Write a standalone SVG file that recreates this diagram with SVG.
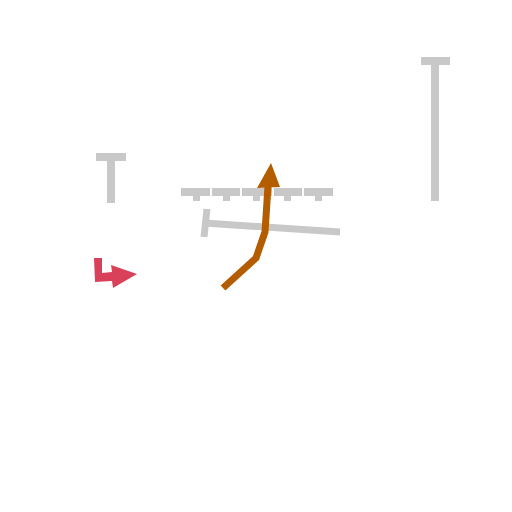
<svg xmlns="http://www.w3.org/2000/svg" width="512" height="512" viewBox="0 0 512 512">
<style>
.g{fill:#c8c8c8}
.gl{stroke:#c8c8c8;fill:none;stroke-width:7}
</style>
<rect width="512" height="512" fill="#fff"/>
<g id="left-post">
<rect class="g" x="96" y="153" width="30" height="8"/>
<rect class="g" x="107" y="160" width="8" height="43"/>
</g>
<g id="right-post">
<rect class="g" x="421" y="57" width="29" height="8"/>
<rect class="g" x="431" y="64" width="8" height="137"/>
</g>
<g id="rail">
<rect class="g" x="181" y="188" width="29" height="8"/>
<rect class="g" x="212" y="188" width="28" height="8"/>
<rect class="g" x="242" y="188" width="30" height="8"/>
<rect class="g" x="274" y="188" width="28" height="8"/>
<rect class="g" x="304" y="188" width="29" height="8"/>
<rect class="g" x="193" y="195" width="7" height="6"/>
<rect class="g" x="223" y="195" width="7" height="6"/>
<rect class="g" x="253" y="195" width="7" height="6"/>
<rect class="g" x="284" y="195" width="7" height="6"/>
<rect class="g" x="315" y="195" width="7" height="6"/>
</g>
<g id="bar">
<line class="gl" x1="204" y1="223" x2="340" y2="232"/>
<line class="gl" x1="207" y1="209" x2="204" y2="237"/>
</g>
<g id="connectors">
<polyline points="223,288 256,258 265,232 268,186" fill="none" stroke="#b35c00" stroke-width="7" stroke-linejoin="miter"/>
<polygon points="257,188 271,163 280,187" fill="#b35c00"/>
<polygon points="94,258 102,258 102,273 112,272 111,265 137,274 113,288 112,281 95,282" fill="#d9415a"/>
</g>
</svg>
